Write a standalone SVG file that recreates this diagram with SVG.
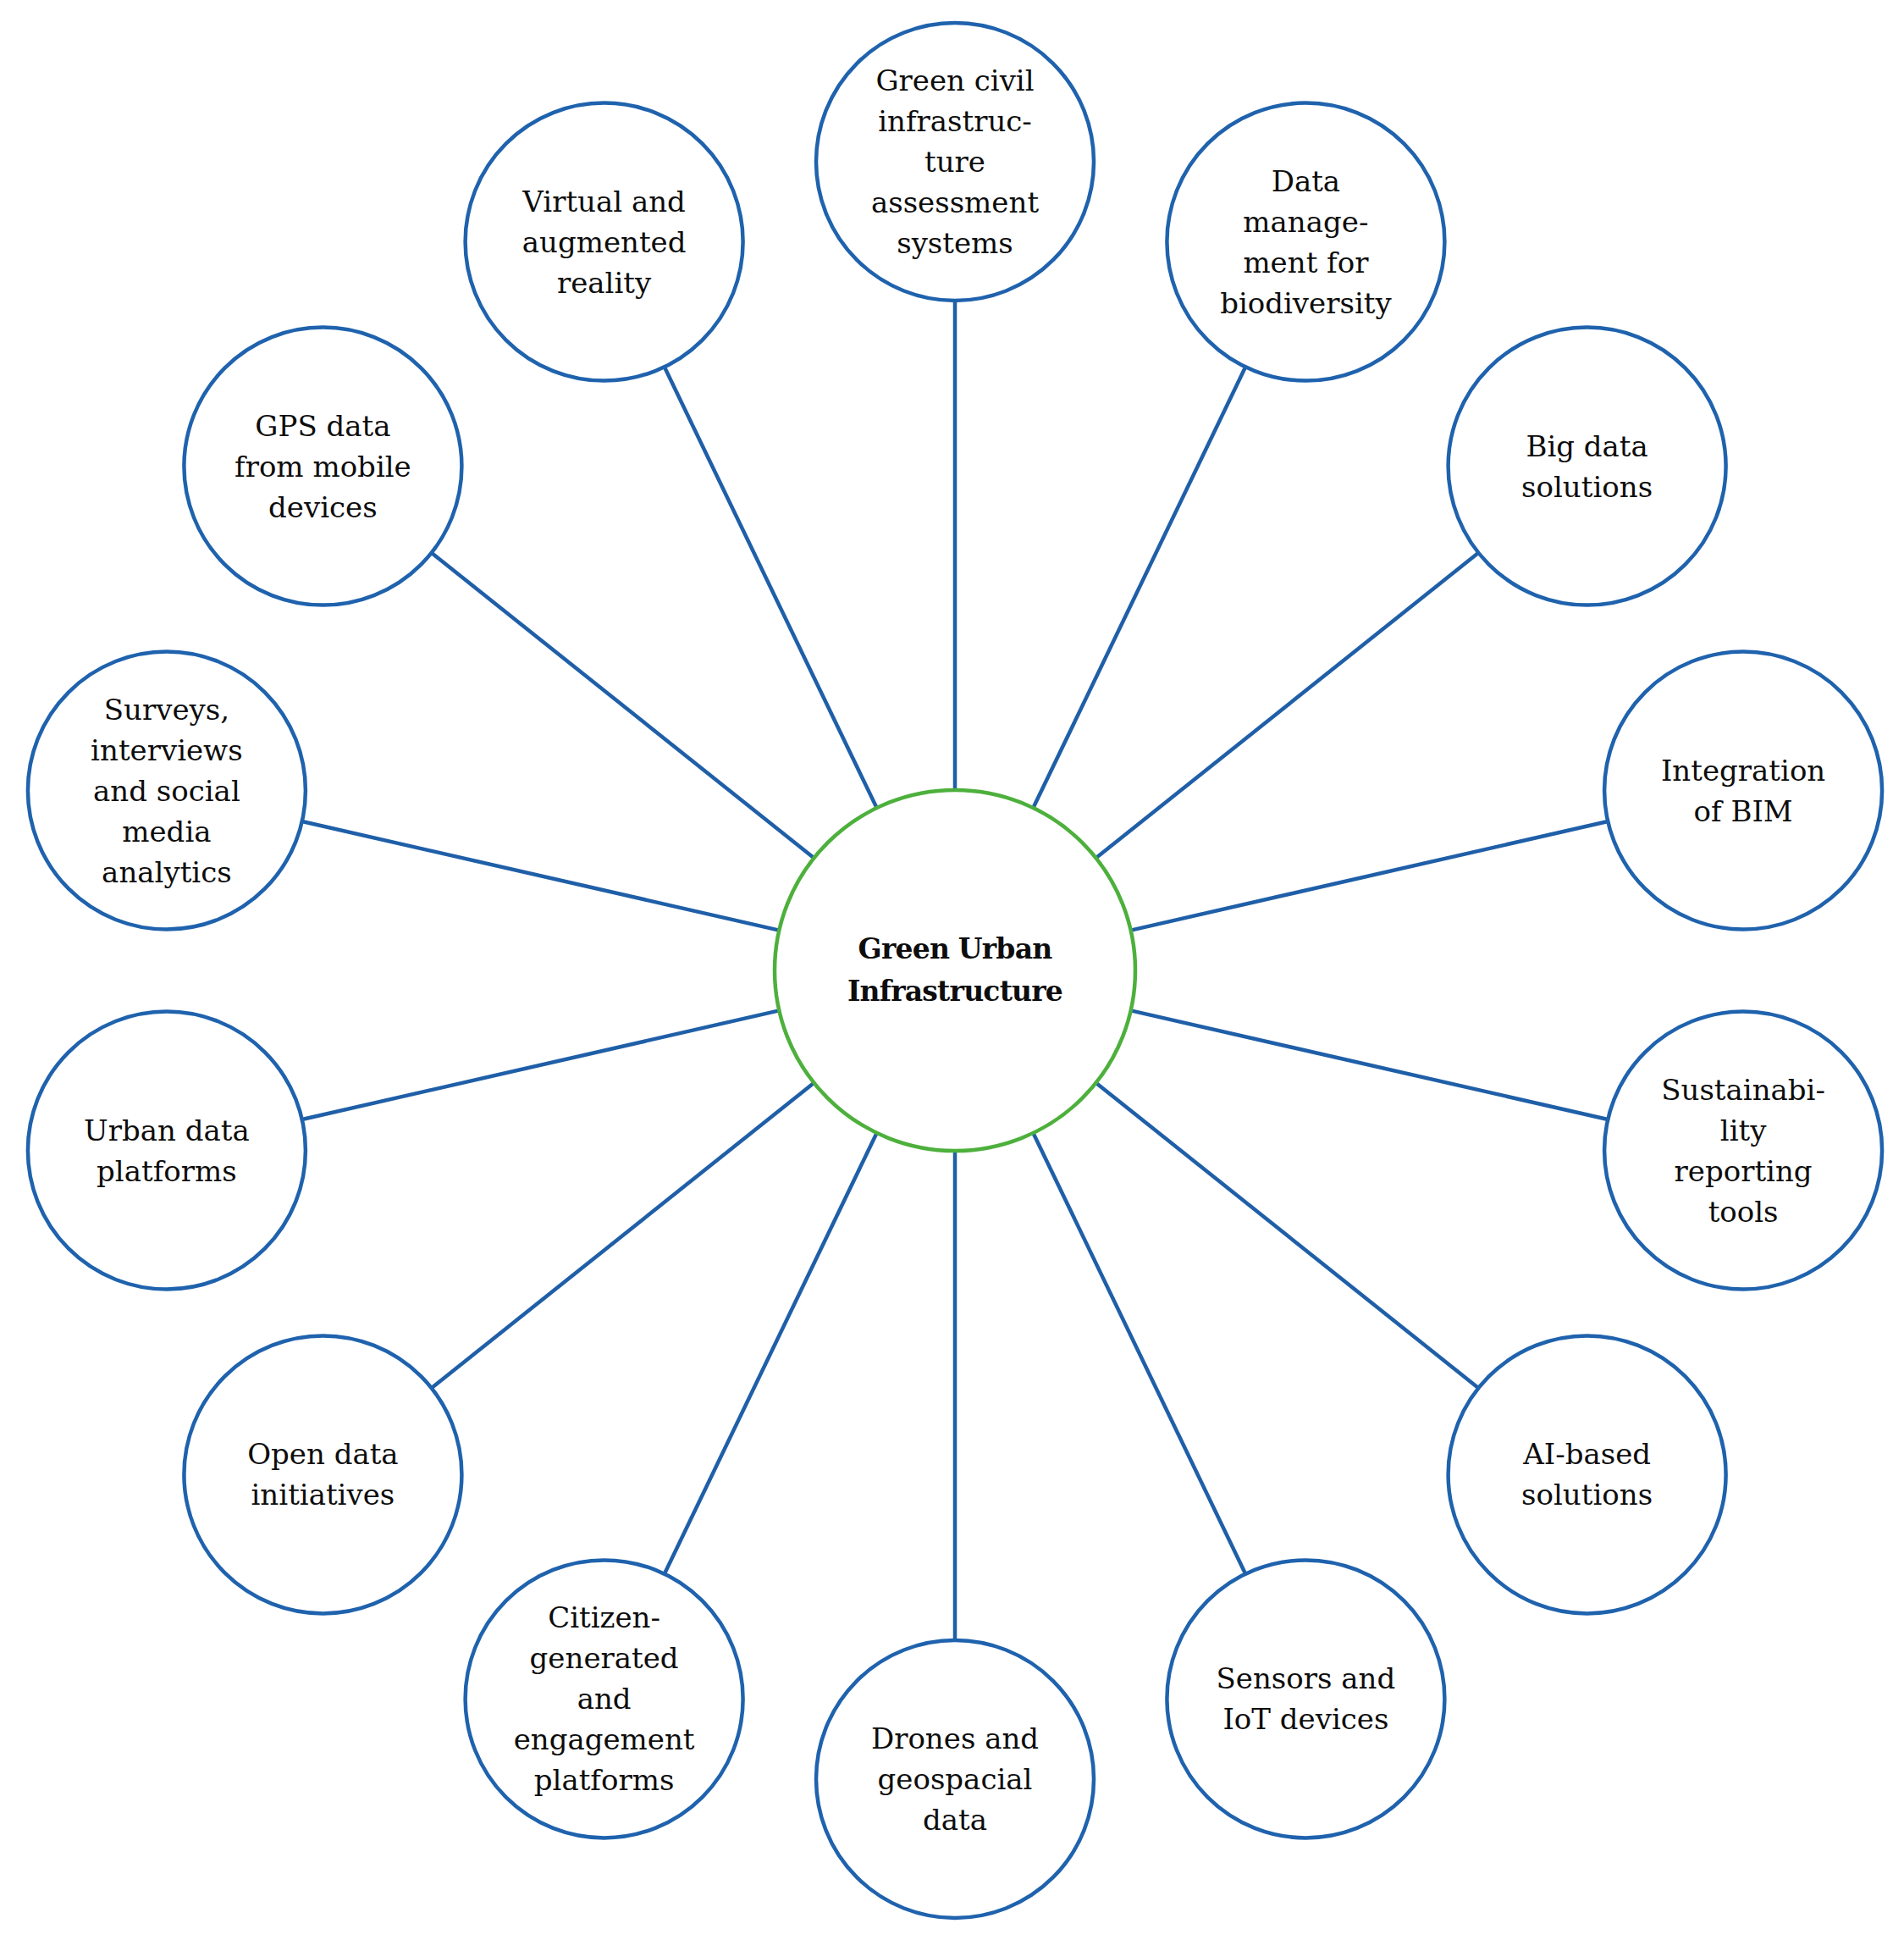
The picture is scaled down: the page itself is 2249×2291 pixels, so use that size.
<svg xmlns="http://www.w3.org/2000/svg" width="2249" height="2291" viewBox="0 0 2249 2291">
<style>
.bg{fill:#ffffff}
.sat{fill:#ffffff;stroke:#1f62ad;stroke-width:4.5}
.hub{fill:#ffffff;stroke:#4db03c;stroke-width:4.5}
.conn line{stroke:#1f5fa8;stroke-width:4.5;stroke-linecap:butt}
.lbl{font-family:"DejaVu Serif","Liberation Serif",serif;font-size:34px;fill:#0d0d0d;text-anchor:middle}
.hubl{font-family:"DejaVu Serif","Liberation Serif",serif;font-size:33px;font-weight:bold;fill:#0d0d0d;text-anchor:middle;letter-spacing:-0.8px}
</style>
<rect class="bg" x="0" y="0" width="2249" height="2291"/>
<g id="connectors" class="conn">
<line x1="1128" y1="933" x2="1128" y2="355"/>
<line x1="1220.4" y1="954.1" x2="1471.2" y2="433.3"/>
<line x1="1294.5" y1="1013.2" x2="1746.4" y2="652.8"/>
<line x1="1335.7" y1="1098.6" x2="1899.2" y2="970.0"/>
<line x1="1335.7" y1="1193.4" x2="1899.2" y2="1322.0"/>
<line x1="1294.5" y1="1278.8" x2="1746.4" y2="1639.2"/>
<line x1="1220.4" y1="1337.9" x2="1471.2" y2="1858.7"/>
<line x1="1128" y1="1359" x2="1128" y2="1937"/>
<line x1="1035.6" y1="1337.9" x2="784.8" y2="1858.7"/>
<line x1="961.5" y1="1278.8" x2="509.6" y2="1639.2"/>
<line x1="920.3" y1="1193.4" x2="356.8" y2="1322.0"/>
<line x1="920.3" y1="1098.6" x2="356.8" y2="970.0"/>
<line x1="961.5" y1="1013.2" x2="509.6" y2="652.8"/>
<line x1="1035.6" y1="954.1" x2="784.8" y2="433.3"/>
</g>
<g id="hub">
<circle class="hub" cx="1128" cy="1146" r="213"/>
<text class="hubl" x="1128" y="1132">Green Urban<tspan x="1128" dy="50">Infrastructure</tspan></text>
</g>
<g id="n0">
<circle class="sat" cx="1128" cy="191" r="164"/>
<text class="lbl" x="1128" y="107">Green civil<tspan x="1128" dy="48">infrastruc-</tspan><tspan x="1128" dy="48">ture</tspan><tspan x="1128" dy="48">assessment</tspan><tspan x="1128" dy="48">systems</tspan></text>
</g>
<g id="n1">
<circle class="sat" cx="1542.4" cy="285.6" r="164"/>
<text class="lbl" x="1542.4" y="225.6">Data<tspan x="1542.4" dy="48">manage-</tspan><tspan x="1542.4" dy="48">ment for</tspan><tspan x="1542.4" dy="48">biodiversity</tspan></text>
</g>
<g id="n2">
<circle class="sat" cx="1874.6" cy="550.6" r="164"/>
<text class="lbl" x="1874.6" y="538.6">Big data<tspan x="1874.6" dy="48">solutions</tspan></text>
</g>
<g id="n3">
<circle class="sat" cx="2059.1" cy="933.5" r="164"/>
<text class="lbl" x="2059.1" y="921.5">Integration<tspan x="2059.1" dy="48">of BIM</tspan></text>
</g>
<g id="n4">
<circle class="sat" cx="2059.1" cy="1358.5" r="164"/>
<text class="lbl" x="2059.1" y="1298.5">Sustainabi-<tspan x="2059.1" dy="48">lity</tspan><tspan x="2059.1" dy="48">reporting</tspan><tspan x="2059.1" dy="48">tools</tspan></text>
</g>
<g id="n5">
<circle class="sat" cx="1874.6" cy="1741.4" r="164"/>
<text class="lbl" x="1874.6" y="1729.4">AI-based<tspan x="1874.6" dy="48">solutions</tspan></text>
</g>
<g id="n6">
<circle class="sat" cx="1542.4" cy="2006.4" r="164"/>
<text class="lbl" x="1542.4" y="1994.4">Sensors and<tspan x="1542.4" dy="48">IoT devices</tspan></text>
</g>
<g id="n7">
<circle class="sat" cx="1128" cy="2101" r="164"/>
<text class="lbl" x="1128" y="2065">Drones and<tspan x="1128" dy="48">geospacial</tspan><tspan x="1128" dy="48">data</tspan></text>
</g>
<g id="n8">
<circle class="sat" cx="713.6" cy="2006.4" r="164"/>
<text class="lbl" x="713.6" y="1922.4">Citizen-<tspan x="713.6" dy="48">generated</tspan><tspan x="713.6" dy="48">and</tspan><tspan x="713.6" dy="48">engagement</tspan><tspan x="713.6" dy="48">platforms</tspan></text>
</g>
<g id="n9">
<circle class="sat" cx="381.4" cy="1741.4" r="164"/>
<text class="lbl" x="381.4" y="1729.4">Open data<tspan x="381.4" dy="48">initiatives</tspan></text>
</g>
<g id="n10">
<circle class="sat" cx="196.9" cy="1358.5" r="164"/>
<text class="lbl" x="196.9" y="1346.5">Urban data<tspan x="196.9" dy="48">platforms</tspan></text>
</g>
<g id="n11">
<circle class="sat" cx="196.9" cy="933.5" r="164"/>
<text class="lbl" x="196.9" y="849.5">Surveys,<tspan x="196.9" dy="48">interviews</tspan><tspan x="196.9" dy="48">and social</tspan><tspan x="196.9" dy="48">media</tspan><tspan x="196.9" dy="48">analytics</tspan></text>
</g>
<g id="n12">
<circle class="sat" cx="381.4" cy="550.6" r="164"/>
<text class="lbl" x="381.4" y="514.6">GPS data<tspan x="381.4" dy="48">from mobile</tspan><tspan x="381.4" dy="48">devices</tspan></text>
</g>
<g id="n13">
<circle class="sat" cx="713.6" cy="285.6" r="164"/>
<text class="lbl" x="713.6" y="249.6">Virtual and<tspan x="713.6" dy="48">augmented</tspan><tspan x="713.6" dy="48">reality</tspan></text>
</g>
</svg>
